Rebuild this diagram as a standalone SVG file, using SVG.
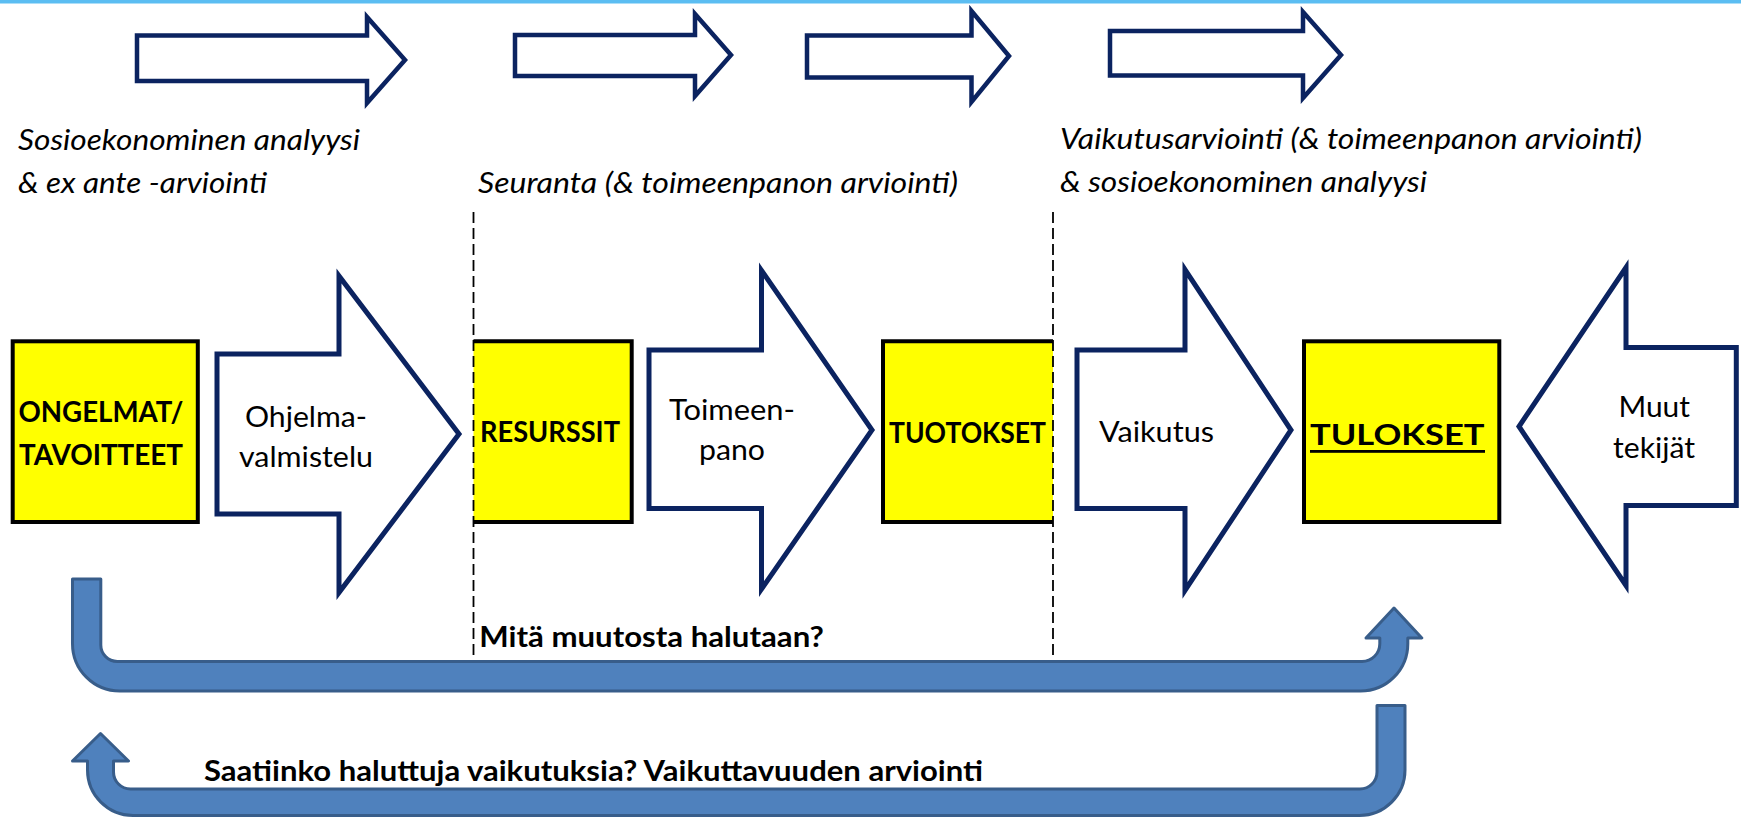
<svg xmlns="http://www.w3.org/2000/svg" width="1741" height="819" viewBox="0 0 1741 819">
<style>
.hollow{fill:#ffffff;stroke:#0b2360;stroke-width:4.5;stroke-linejoin:miter}
.block{fill:#ffffff;stroke:#0b2360;stroke-width:5;stroke-linejoin:miter}
.box{fill:#ffff00;stroke:#000000;stroke-width:4}
.boxfill{fill:#ffff00;stroke:none}
.boxedge{fill:none;stroke:#000000;stroke-width:4}
.sep{fill:none;stroke:#000000;stroke-width:1.8;stroke-dasharray:11 5}
.uarrow{fill:#4f81bd;stroke:#385d8a;stroke-width:3;stroke-linejoin:round}
.it{font-family:Lato,"Liberation Sans",sans-serif;font-style:italic;font-size:29px;fill:#000}
.reg{font-family:Lato,"Liberation Sans",sans-serif;font-size:29px;fill:#000}
.bold{font-family:Lato,"Liberation Sans",sans-serif;font-weight:bold;font-size:29px;fill:#000}
</style>
<rect x="0" y="0" width="1741" height="819" fill="#ffffff"/>
<rect x="0" y="0" width="1741" height="3.5" fill="#5bbdf2"/>

<g id="top-arrows">
<path class="hollow" d="M137 35.5 L367 35.5 L367 17 L405 60 L367 103 L367 81 L137 81 Z"/>
<path class="hollow" d="M515 35 L695 35 L695 14 L731 55 L695 96 L695 76 L515 76 Z"/>
<path class="hollow" d="M807 35.5 L971.5 35.5 L971.5 11 L1009 56 L971.5 102 L971.5 77.5 L807 77.5 Z"/>
<path class="hollow" d="M1110 31 L1303 31 L1303 12 L1341 55 L1303 98 L1303 75.5 L1110 75.5 Z"/>
</g>

<g id="phase-labels">
<text class="it" x="18" y="150" textLength="342" lengthAdjust="spacingAndGlyphs">Sosioekonominen analyysi</text>
<text class="it" x="18" y="193" textLength="249" lengthAdjust="spacingAndGlyphs">&amp; ex ante -arviointi</text>
<text class="it" x="478" y="193" textLength="480" lengthAdjust="spacingAndGlyphs">Seuranta (&amp; toimeenpanon arviointi)</text>
<text class="it" x="1060" y="149" textLength="582" lengthAdjust="spacingAndGlyphs">Vaikutusarviointi (&amp; toimeenpanon arviointi)</text>
<text class="it" x="1060" y="192" textLength="367" lengthAdjust="spacingAndGlyphs">&amp; sosioekonominen analyysi</text>
</g>

<g id="ongelmat">
<rect class="box" x="12.7" y="341.3" width="185.1" height="180.7"/>
<text class="bold" x="18.5" y="421.7" textLength="165" lengthAdjust="spacingAndGlyphs">ONGELMAT/</text>
<text class="bold" x="19" y="465" textLength="164" lengthAdjust="spacingAndGlyphs">TAVOITTEET</text>
</g>

<g id="ohjelmavalmistelu">
<path class="block" d="M217 354 L339 354 L339 276 L459 434 L339 592.5 L339 514 L217 514 Z"/>
<text class="reg" x="245" y="426.7" textLength="122" lengthAdjust="spacingAndGlyphs">Ohjelma-</text>
<text class="reg" x="239" y="466.7" textLength="134" lengthAdjust="spacingAndGlyphs">valmistelu</text>
</g>

<g id="resurssit">
<rect class="boxfill" x="473.5" y="341.3" width="158.2" height="180.7"/>
<path class="boxedge" d="M473.5 341.3 L631.7 341.3 L631.7 522 L473.5 522"/>
<text class="bold" x="480" y="441.7" textLength="140" lengthAdjust="spacingAndGlyphs">RESURSSIT</text>
</g>

<g id="toimeenpano">
<path class="block" d="M649 350 L761.5 350 L761.5 270.5 L872 430 L761.5 589 L761.5 508.5 L649 508.5 Z"/>
<text class="reg" x="669" y="420" textLength="126" lengthAdjust="spacingAndGlyphs">Toimeen-</text>
<text class="reg" x="699" y="460" textLength="66" lengthAdjust="spacingAndGlyphs">pano</text>
</g>

<g id="tuotokset">
<rect class="boxfill" x="883" y="341.3" width="170" height="180.7"/>
<path class="boxedge" d="M1053 341.3 L883 341.3 L883 522 L1053 522"/>
<text class="bold" x="889" y="442.7" textLength="157" lengthAdjust="spacingAndGlyphs">TUOTOKSET</text>
</g>

<g id="vaikutus">
<path class="block" d="M1077 350 L1185 350 L1185 269.5 L1291 430 L1185 590.5 L1185 508.5 L1077 508.5 Z"/>
<text class="reg" x="1099" y="441.7" textLength="115" lengthAdjust="spacingAndGlyphs">Vaikutus</text>
</g>

<g id="tulokset">
<rect class="box" x="1304" y="341.3" width="195.3" height="180.7"/>
<text class="bold" x="1310" y="445" font-size="37" textLength="174.5" lengthAdjust="spacingAndGlyphs">TULOKSET</text>
<rect x="1310" y="450" width="175" height="2.8" fill="#000"/>
</g>

<g id="muut-tekijat">
<path class="block" d="M1736.3 347.5 L1626 347.5 L1626 267.5 L1519 426.5 L1626 585.5 L1626 505.5 L1736.3 505.5 Z"/>
<text class="reg" x="1618.5" y="416.7" textLength="71.5" lengthAdjust="spacingAndGlyphs">Muut</text>
<text class="reg" x="1613" y="458" textLength="82" lengthAdjust="spacingAndGlyphs">tekijät</text>
</g>

<g id="separators">
<line class="sep" x1="473.5" y1="212" x2="473.5" y2="658"/>
<line class="sep" x1="1053" y1="212" x2="1053" y2="658"/>
</g>

<g id="connectors">
<path class="uarrow" d="M72.5 579 L100.8 579 L100.8 645 A16.5 16.5 0 0 0 117.3 661.5 L1362 661.5 A17.8 17.8 0 0 0 1379.8 643.7 L1379.8 638 L1366 638 L1394 608 L1421.8 638 L1407.8 638 L1407.8 643.7 A47.3 47.3 0 0 1 1360.5 691 L119.8 691 A47.3 47.3 0 0 1 72.5 643.7 Z"/>
<path class="uarrow" d="M1377 705.5 L1405 705.5 L1405 770 A45.5 45.5 0 0 1 1359.5 815.5 L133 815.5 A45.5 45.5 0 0 1 87.5 770 L87.5 761 L72.5 761 L100.5 733.5 L128.5 761 L113.5 761 L113.5 772 A17 17 0 0 0 130.5 789 L1360 789 A17 17 0 0 0 1377 772 Z"/>
</g>

<g id="connector-labels">
<text class="bold" x="479.3" y="647" textLength="344.5" lengthAdjust="spacingAndGlyphs">Mitä muutosta halutaan?</text>
<text class="bold" x="204" y="780.7" textLength="779" lengthAdjust="spacingAndGlyphs">Saatiinko haluttuja vaikutuksia? Vaikuttavuuden arviointi</text>
</g>
</svg>
